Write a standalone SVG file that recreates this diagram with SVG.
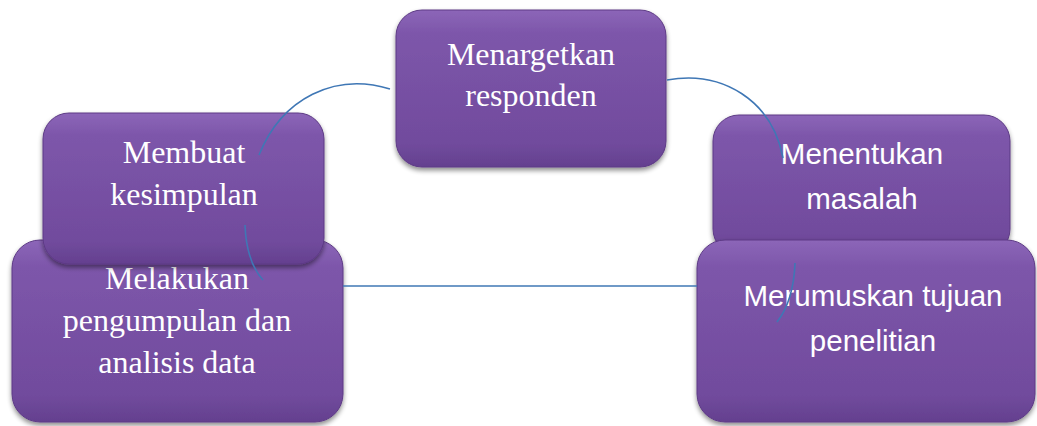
<svg xmlns="http://www.w3.org/2000/svg" width="1037" height="426" viewBox="0 0 1037 426">
<style>
.box{fill:url(#pg);stroke:#5d3a85;stroke-width:1;filter:url(#sh)}
.serif{font-family:"Liberation Serif","Times New Roman",serif;font-size:32px;fill:#ffffff;text-anchor:middle}
.sans{font-family:"Liberation Sans",Arial,sans-serif;font-size:29.5px;fill:#ffffff;text-anchor:middle}
.conn{fill:none;stroke:#3f77b5;stroke-width:1.6}
</style>
<defs>
<linearGradient id="pg" x1="0" y1="0" x2="0" y2="1">
<stop offset="0" stop-color="#8c66b8"/>
<stop offset="0.15" stop-color="#7d56aa"/>
<stop offset="0.85" stop-color="#714b9d"/>
<stop offset="1" stop-color="#64408f"/>
</linearGradient>
<filter id="sh" x="-10%" y="-10%" width="120%" height="125%">
<feGaussianBlur in="SourceAlpha" stdDeviation="2.5"/>
<feOffset dx="0" dy="3" result="b"/>
<feComponentTransfer><feFuncA type="linear" slope="0.45"/></feComponentTransfer>
<feMerge><feMergeNode/><feMergeNode in="SourceGraphic"/></feMerge>
</filter>
</defs>
<g id="node-menargetkan">
<rect class="box" x="396" y="10" width="270" height="157" rx="26"/>
<text class="serif" x="531" y="65">Menargetkan</text>
<text class="serif" x="531" y="106">responden</text>
</g>
<g id="node-melakukan">
<rect class="box" x="12" y="240" width="331" height="182" rx="28"/>
<text class="serif" x="177" y="289">Melakukan</text>
<text class="serif" x="177" y="331">pengumpulan dan</text>
<text class="serif" x="177" y="373">analisis data</text>
</g>
<g id="node-membuat">
<rect class="box" x="43" y="113" width="281" height="151" rx="26"/>
<text class="serif" x="184" y="163">Membuat</text>
<text class="serif" x="184" y="205">kesimpulan</text>
</g>
<g id="node-menentukan">
<rect class="box" x="713" y="115" width="297" height="140" rx="26"/>
<text class="sans" x="862" y="164">Menentukan</text>
<text class="sans" x="862" y="209">masalah</text>
</g>
<g id="node-merumuskan">
<rect class="box" x="697" y="240" width="338" height="182" rx="28"/>
<text class="sans" x="873" y="306">Merumuskan tujuan</text>
<text class="sans" x="873" y="351">penelitian</text>
</g>
<g id="connectors">
<path class="conn" d="M259,155 C282,98 335,72 390,89"/>
<path class="conn" d="M667,80 C722,70 772,100 783,158"/>
<path class="conn" d="M795,263 C794,290 788,308 777,322"/>
<path class="conn" d="M343,286 L697,286"/>
<path class="conn" d="M245,225 C246,250 252,268 263,280"/>
</g>
</svg>
